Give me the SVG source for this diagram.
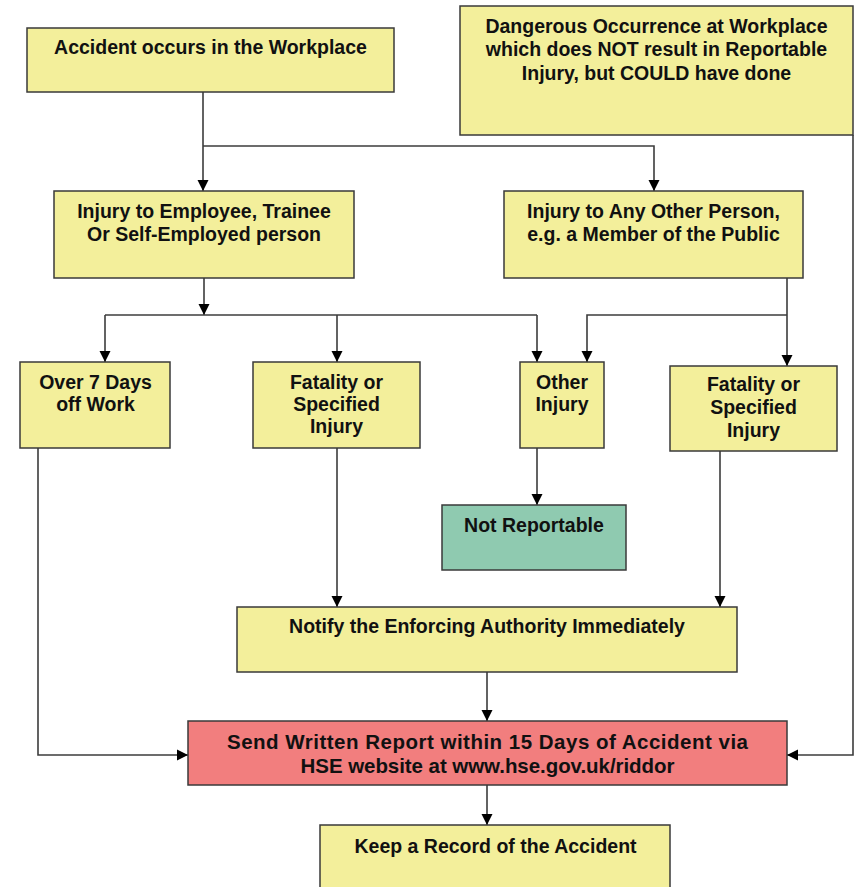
<svg xmlns="http://www.w3.org/2000/svg" width="855" height="887" viewBox="0 0 855 887">
<style>
.box{fill:#f3ef9b;stroke:#3a3a3a;stroke-width:1.5}
.red{fill:#f27e7e}
.teal{fill:#8fcab0}
.t{font-family:"Liberation Sans",Arial,sans-serif;font-weight:bold;font-size:19.5px;fill:#111;text-anchor:middle}
.big{font-size:20.5px}
.c{fill:none;stroke:#3c3c3c;stroke-width:1.6}
</style>
<defs>
<marker id="ah" markerUnits="userSpaceOnUse" markerWidth="12" markerHeight="12" viewBox="0 0 12 12" refX="11" refY="6" orient="auto">
<path d="M0,0.5 L11,6 L0,11.5 Z" fill="#000"/>
</marker>
</defs>
<rect width="855" height="887" fill="#fff"/>
<g id="connectors">
<path class="c" d="M203,92 V191" marker-end="url(#ah)"/>
<path class="c" d="M203,146 H654 V191" marker-end="url(#ah)"/>
<path class="c" d="M204,278 V315" marker-end="url(#ah)"/>
<path class="c" d="M105,315 H537"/>
<path class="c" d="M105,315 V362" marker-end="url(#ah)"/>
<path class="c" d="M337,315 V362" marker-end="url(#ah)"/>
<path class="c" d="M537,315 V362" marker-end="url(#ah)"/>
<path class="c" d="M787,278 V366" marker-end="url(#ah)"/>
<path class="c" d="M787,315 H587 V362" marker-end="url(#ah)"/>
<path class="c" d="M537,448 V505" marker-end="url(#ah)"/>
<path class="c" d="M337,448 V607" marker-end="url(#ah)"/>
<path class="c" d="M720,451 V607" marker-end="url(#ah)"/>
<path class="c" d="M487,672 V721" marker-end="url(#ah)"/>
<path class="c" d="M38,448 V755 H188" marker-end="url(#ah)"/>
<path class="c" d="M853,135 V755 H787" marker-end="url(#ah)"/>
<path class="c" d="M487,785 V825" marker-end="url(#ah)"/>
</g>
<g id="accident">
<rect class="box" x="27" y="28" width="367" height="64"/>
<text class="t" x="210.5" y="54">Accident occurs in the Workplace</text>
</g>
<g id="dangerous">
<rect class="box" x="460" y="6" width="393" height="129"/>
<text class="t" x="656.5" y="33">Dangerous Occurrence at Workplace</text>
<text class="t" x="656.5" y="56">which does NOT result in Reportable</text>
<text class="t" x="656.5" y="80">Injury, but COULD have done</text>
</g>
<g id="employee">
<rect class="box" x="54" y="191" width="300" height="87"/>
<text class="t" x="204" y="218">Injury to Employee, Trainee</text>
<text class="t" x="204" y="241">Or Self-Employed person</text>
</g>
<g id="otherperson">
<rect class="box" x="504" y="191" width="299" height="87"/>
<text class="t" x="653.5" y="218">Injury to Any Other Person,</text>
<text class="t" x="653.5" y="241">e.g. a Member of the Public</text>
</g>
<g id="over7">
<rect class="box" x="20" y="362" width="150" height="86"/>
<text class="t" x="95.5" y="389">Over 7 Days</text>
<text class="t" x="95.5" y="411">off Work</text>
</g>
<g id="fatality1">
<rect class="box" x="253" y="362" width="167" height="86"/>
<text class="t" x="336.5" y="389">Fatality or</text>
<text class="t" x="336.5" y="411">Specified</text>
<text class="t" x="336.5" y="433">Injury</text>
</g>
<g id="otherinjury">
<rect class="box" x="520" y="362" width="84" height="86"/>
<text class="t" x="562" y="389">Other</text>
<text class="t" x="562" y="411">Injury</text>
</g>
<g id="fatality2">
<rect class="box" x="670" y="366" width="167" height="85"/>
<text class="t" x="753.5" y="391">Fatality or</text>
<text class="t" x="753.5" y="414">Specified</text>
<text class="t" x="753.5" y="437">Injury</text>
</g>
<g id="notreportable">
<rect class="box teal" x="442" y="505" width="184" height="65"/>
<text class="t" x="534" y="532">Not Reportable</text>
</g>
<g id="notify">
<rect class="box" x="237" y="607" width="500" height="65"/>
<text class="t" x="487" y="633">Notify the Enforcing Authority Immediately</text>
</g>
<g id="send">
<rect class="box red" x="188" y="721" width="599" height="64"/>
<text class="t big" x="487.5" y="749" textLength="521">Send Written Report within 15 Days of Accident via</text>
<text class="t big" x="487.5" y="773" textLength="374">HSE website at www.hse.gov.uk/riddor</text>
</g>
<g id="keep">
<rect class="box" x="320" y="825" width="350" height="70"/>
<text class="t" x="495.5" y="853">Keep a Record of the Accident</text>
</g>
</svg>
